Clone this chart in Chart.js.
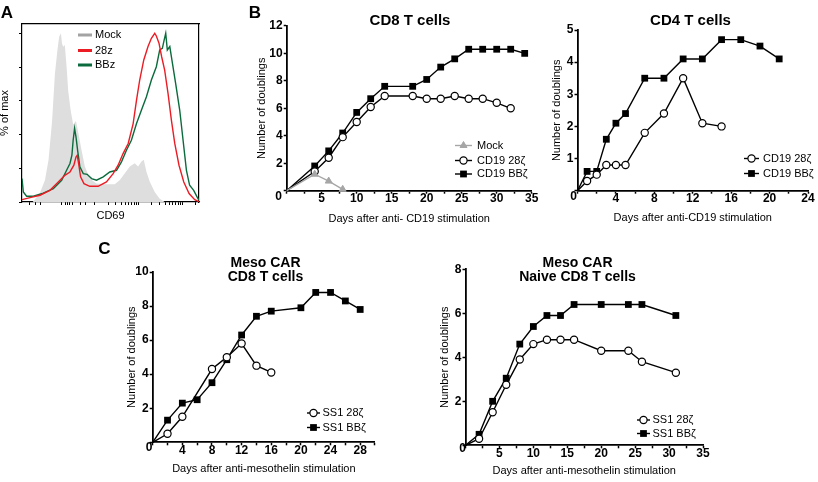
<!DOCTYPE html>
<html>
<head>
<meta charset="utf-8">
<script src="https://cdn.jsdelivr.net/npm/chart.js@4.4.1/dist/chart.umd.min.js"></script>
<style>
  html, body { margin: 0; padding: 0; background: #fff; }
  #fig { position: relative; width: 818px; height: 482px; overflow: hidden; }
  #fig canvas { position: absolute; left: 0; top: 0; }
</style>
</head>
<body>
<div id="fig">
  <canvas id="panelA" width="818" height="482"></canvas>
  <canvas id="panelCD8" width="818" height="482"></canvas>
  <canvas id="panelCD4" width="818" height="482"></canvas>
  <canvas id="panelMeso" width="818" height="482"></canvas>
  <canvas id="panelNaive" width="818" height="482"></canvas>
</div>
<script>
// Panel A - CD69 histogram, x = channel (0-100 across the plot), y = % of max
const mockX = [6, 10, 13, 15, 17, 18.6, 20, 21, 22, 22.6, 23.3, 24.2, 25.2, 26.1, 27.4, 28.9, 30.5, 31.8, 33.6, 35.5, 38.3, 42, 47.7, 52.4, 55.3, 58.1, 60.9, 63.7, 65.6, 67.5, 68.8, 70.3, 72.2, 75, 77.8, 80.6];
const mockY = [0, 5, 13, 25, 48, 76, 90, 98, 100, 94, 92, 93, 80, 66, 55, 46, 48, 41, 31, 21, 14, 11, 10.5, 10.5, 13, 17, 21, 23, 21, 24, 25, 18, 12, 6, 2, 0];
const z28X = [0, 4.5, 10.2, 15.8, 20.5, 24.2, 27.1, 29.3, 30.5, 31.2, 32, 33.1, 35, 38.3, 43, 47.7, 51.5, 54.3, 57.1, 60, 62.8, 64.7, 66.5, 68.8, 71.2, 73.1, 75, 75.9, 77.4, 78.9, 80.6, 82.5, 84.4, 86.3, 88.7, 91.4, 94.4, 97.6, 100];
const z28Y = [1.4, 2.6, 4, 6.9, 11.9, 15.8, 17.8, 21.8, 26.7, 27.7, 22.8, 14.9, 10.9, 9.3, 9.3, 11.9, 16.8, 21.8, 28.7, 34.7, 46.5, 60.4, 72.3, 84.2, 92.1, 97, 100, 98.4, 94.1, 86.1, 78.2, 64.4, 48.5, 34.7, 21.8, 11.9, 5, 1.4, 0.2];
const bbzX = [0, 0.75, 2.6, 6.4, 12, 17.7, 22.4, 25.2, 27.1, 28.2, 28.9, 29.7, 30.5, 31.4, 32.7, 34.6, 36.8, 39.3, 42.1, 45.9, 49.6, 53.4, 56.2, 59, 61.8, 64.7, 67.5, 70.3, 73.1, 75.9, 77.8, 79.3, 80.3, 81.2, 82.1, 83.5, 85, 86.8, 89.1, 91, 92.9, 94.7, 97, 98.9, 100];
const bbzY = [13.9, 5.9, 3.4, 3.4, 5.3, 7.9, 12.9, 18.8, 22.8, 27.7, 36.6, 43.6, 38.6, 30.7, 20.8, 16.8, 16.4, 13.9, 12.9, 14.9, 17.8, 18.8, 23.8, 30.7, 36.6, 46.5, 54.5, 62.4, 72.3, 80.2, 90.1, 91.1, 96, 100, 90.1, 92.1, 82.2, 70.3, 54.5, 36.6, 18.8, 9.9, 6.9, 3, 1];
const cd69Ticks = [4.5, 7.7, 10.2, 22.4, 24.3, 25.8, 27.1, 28.3, 33.3, 35.6, 41.2, 48.6, 52.9, 56, 58.3, 60.3, 61.9, 63.3, 64.6, 65.7, 73.2, 77.6, 80.8, 83.2, 85.2, 86.8, 88.2, 89.4, 90.5, 97.9];
const pctTicks = [0, 20, 40, 60, 80, 100];

// Panel B - CD8 T cells
const cd8DaysMock = [0, 4, 6, 8];
const cd8Mock = [0, 1.2, 0.7, 0.1];
const cd8Days28 = [0, 4, 6, 8, 10, 12, 14, 18, 20, 22, 24, 26, 28, 30, 32];
const cd8z28 = [0, 1.4, 2.4, 3.9, 5.0, 6.1, 6.9, 6.9, 6.7, 6.7, 6.9, 6.7, 6.7, 6.4, 6.0];
const cd8DaysBB = [0, 4, 6, 8, 10, 12, 14, 18, 20, 22, 24, 26, 28, 30, 32, 34];
const cd8BB = [0, 1.8, 2.9, 4.2, 5.7, 6.7, 7.6, 7.6, 8.1, 9.0, 9.6, 10.3, 10.3, 10.3, 10.3, 10.0];

// Panel B - CD4 T cells
const cd4Days28 = [0, 1, 2, 3, 4, 5, 7, 9, 11, 13, 15];
const cd4z28 = [0, 0.3, 0.5, 0.8, 0.8, 0.8, 1.8, 2.4, 3.5, 2.1, 2.0];
const cd4DaysBB = [0, 1, 2, 3, 4, 5, 7, 9, 11, 13, 15, 17, 19, 21];
const cd4BB = [0, 0.6, 0.6, 1.6, 2.1, 2.4, 3.5, 3.5, 4.1, 4.1, 4.7, 4.7, 4.5, 4.1];

// Panel C - Meso CAR CD8 T cells
const mesoDays28 = [0, 2, 4, 8, 10, 12, 14, 16];
const meso28 = [0, 0.5, 1.5, 4.3, 5.0, 5.8, 4.5, 4.1];
const mesoDaysBB = [0, 2, 4, 6, 8, 10, 12, 14, 16, 20, 22, 24, 26, 28];
const mesoBB = [0, 1.3, 2.3, 2.5, 3.5, 4.85, 6.3, 7.4, 7.7, 7.9, 8.8, 8.8, 8.3, 7.8];

// Panel C - Meso CAR naive CD8 T cells
const naiveDays28 = [0, 2, 4, 6, 8, 10, 12, 14, 16, 20, 24, 26, 31];
const naive28 = [0, 0.3, 1.5, 2.75, 3.9, 4.6, 4.8, 4.8, 4.8, 4.3, 4.3, 3.8, 3.3];
const naiveDaysBB = [0, 2, 4, 6, 8, 10, 12, 14, 16, 20, 24, 26, 31];
const naiveBB = [0, 0.5, 2.0, 3.05, 4.6, 5.4, 5.9, 5.9, 6.4, 6.4, 6.4, 6.4, 5.9];

const FONT = "Arial, 'Liberation Sans', Helvetica, sans-serif";
Chart.defaults.font.family = FONT;
Chart.defaults.color = '#000';
Chart.defaults.animation = false;
Chart.defaults.events = [];
Chart.defaults.plugins.legend.display = false;
Chart.defaults.plugins.tooltip.enabled = false;

const W = 818, H = 482;
const pts = (xs, ys) => xs.map((x, i) => ({ x: x, y: ys[i] }));

// free text: panel letters, titles, the shared corner "0"
function textLayer(items) {
    return {
        id: 'textLayer',
        afterDraw(chart) {
            const ctx = chart.ctx;
            ctx.save();
            ctx.fillStyle = '#000';
            ctx.textBaseline = 'middle';
            items.forEach(t => {
                ctx.font = t.font;
                ctx.textAlign = t.align || 'center';
                ctx.fillText(t.text, t.x, t.y);
            });
            ctx.restore();
        }
    };
}

// small legend inside the plot, drawn from the datasets' own styles
function legendLayer(spec) {
    return {
        id: 'legendLayer',
        afterDatasetsDraw(chart) {
            const ctx = chart.ctx;
            const mid = (spec.x0 + spec.x1) / 2;
            ctx.save();
            chart.data.datasets.forEach((ds, i) => {
                const y = spec.rows[i];
                ctx.strokeStyle = ds.legendColor || ds.borderColor;
                ctx.lineWidth = spec.lineWidth || ds.borderWidth;
                ctx.beginPath();
                ctx.moveTo(spec.x0, y);
                ctx.lineTo(spec.x1, y);
                ctx.stroke();
                if (ds.mark) {
                    ctx.fillStyle = ds.pointBackgroundColor;
                    ctx.strokeStyle = ds.pointBorderColor;
                    ctx.lineWidth = ds.pointBorderWidth;
                    Chart.helpers.drawPoint(ctx, { pointStyle: ds.pointStyle, radius: ds.mark, borderWidth: ds.pointBorderWidth, rotation: 0 }, mid, y);
                }
                ctx.fillStyle = '#000';
                ctx.font = spec.font;
                ctx.textAlign = 'left';
                ctx.textBaseline = 'middle';
                ctx.fillText(ds.label, spec.textX, y);
            });
            ctx.restore();
        }
    };
}

const axisGrid = { drawOnChartArea: false, tickLength: 3, tickColor: '#000', tickWidth: 1.5 };
const axisBorder = { color: '#000', width: 1.8 };

const seriesStyle = {
    mock: { borderColor: '#a6a6a6', pointStyle: 'triangle', pointBackgroundColor: '#a6a6a6', pointBorderColor: '#a6a6a6', pointBorderWidth: 1, mark: 4 },
    open: { borderColor: '#000', pointStyle: 'circle', pointBackgroundColor: '#fff', pointBorderColor: '#000', pointBorderWidth: 1.2, mark: 3.6 },
    filled: { borderColor: '#000', pointStyle: 'rect', pointBackgroundColor: '#000', pointBorderColor: '#000', pointBorderWidth: 0, mark: 4.8 }
};

function isLabel(v, every) {
    return v > 0 && Math.abs(v / every - Math.round(v / every)) < 1e-6;
}

function growthChart(id, s) {
    const a = s.area;
    const datasets = s.series.map(se => {
        const st = seriesStyle[se.kind];
        return Object.assign({
            label: se.label,
            data: pts(se.days, se.vals),
            borderWidth: 1.4,
            tension: 0,
            fill: false,
            clip: false,
            pointRadius: c => (c.dataIndex === 0 ? 0 : st.mark)
        }, st);
    });

    return new Chart(document.getElementById(id), {
        type: 'line',
        data: { datasets: datasets },
        options: {
            responsive: false,
            layout: { padding: { left: a.l - s.yW, right: W - a.r, top: a.t, bottom: H - a.b - s.xH } },
            scales: {
                x: {
                    type: 'linear', min: 0, max: s.xMax,
                    afterFit: sc => { sc.height = s.xH; },
                    ticks: {
                        stepSize: s.xStep, autoSkip: false, maxRotation: 0, padding: -1,
                        font: { size: 12, weight: 'bold', lineHeight: 1 },
                        callback: v => (isLabel(v, s.xEvery) ? String(v) : '')
                    },
                    grid: axisGrid,
                    border: axisBorder,
                    title: { display: true, text: s.xTitle, font: { size: 11 }, padding: 0 }
                },
                y: {
                    min: 0, max: s.yMax,
                    afterFit: sc => { sc.width = s.yW; },
                    ticks: {
                        stepSize: s.yStep, padding: 1,
                        font: { size: 12, weight: 'bold' },
                        callback: v => (v === 0 ? '' : String(v))
                    },
                    grid: axisGrid,
                    border: axisBorder,
                    title: { display: true, text: s.yTitle, font: { size: 11 }, padding: 0 }
                }
            }
        },
        plugins: [textLayer(s.texts), legendLayer(s.legend)]
    });
}

// ---- Panel A ----
new Chart(document.getElementById('panelA'), {
    type: 'line',
    data: {
        datasets: [
            { label: 'Mock', data: pts(mockX, mockY), fill: 'origin', backgroundColor: '#dedede', borderWidth: 0,
              borderColor: 'rgba(0,0,0,0)', legendColor: '#a3a3a3', pointRadius: 0, order: 3 },
            { label: '28z', data: pts(z28X, z28Y), fill: false, borderColor: '#ec1c24', borderWidth: 1.4, pointRadius: 0, order: 1 },
            { label: 'BBz', data: pts(bbzX, bbzY), fill: false, borderColor: '#0b6b3c', borderWidth: 1.4, pointRadius: 0, order: 2 }
        ]
    },
    options: {
        responsive: false,
        layout: { padding: { left: 0, right: W - 199, top: 24, bottom: H - 202 - 20.6 } },
        scales: {
            x: {
                type: 'linear', min: 0, max: 100,
                afterBuildTicks: sc => { sc.ticks = cd69Ticks.map(v => ({ value: v })); },
                afterFit: sc => { sc.height = 20.6; },
                ticks: { display: false },
                grid: { drawOnChartArea: false, tickLength: 3, tickColor: '#000', tickWidth: 1 },
                border: { color: '#000', width: 1.2 },
                title: { display: true, text: 'CD69', font: { size: 11 }, padding: 0 }
            },
            y: {
                min: 0, max: 105.5,
                afterBuildTicks: sc => { sc.ticks = pctTicks.map(v => ({ value: v })); },
                afterFit: sc => { sc.width = 22; },
                ticks: { display: false },
                grid: { drawOnChartArea: false, tickLength: 3, tickColor: '#000', tickWidth: 1 },
                border: { color: '#000', width: 1.2 },
                title: { display: true, text: '% of max', font: { size: 11 }, padding: { top: -1.6, bottom: 0 } }
            },
            x2: {
                type: 'linear', position: 'top', min: 0, max: 1,
                afterFit: sc => { sc.height = 0; },
                ticks: { display: false },
                grid: { drawOnChartArea: false, drawTicks: false },
                border: { color: '#000', width: 1.2 }
            },
            y2: {
                type: 'linear', position: 'right', min: 0, max: 1,
                afterFit: sc => { sc.width = 0; },
                ticks: { display: false },
                grid: { drawOnChartArea: false, drawTicks: false },
                border: { color: '#000', width: 1.2 }
            }
        }
    },
    plugins: [
        textLayer([{ text: 'A', x: 7, y: 13.5, font: 'bold 17px ' + FONT }]),
        legendLayer({ x0: 78, x1: 92, textX: 95, rows: [35, 50.5, 65], lineWidth: 3, font: '11px ' + FONT })
    ]
});

// ---- Panel B ----
growthChart('panelCD8', {
    area: { l: 286.7, r: 531.7, t: 25.9, b: 190.7 }, yW: 31.3, xH: 34.9,
    xMax: 35, xStep: 2.5, xEvery: 5, yMax: 12, yStep: 2,
    xTitle: 'Days after anti- CD19 stimulation', yTitle: 'Number of doublings',
    series: [
        { label: 'Mock', kind: 'mock', days: cd8DaysMock, vals: cd8Mock },
        { label: 'CD19 28ζ', kind: 'open', days: cd8Days28, vals: cd8z28 },
        { label: 'CD19 BBζ', kind: 'filled', days: cd8DaysBB, vals: cd8BB }
    ],
    texts: [
        { text: 'B', x: 255, y: 13.5, font: 'bold 17px ' + FONT },
        { text: 'CD8 T cells', x: 410, y: 21, font: 'bold 15px ' + FONT },
        { text: '0', x: 278.5, y: 197, font: 'bold 12px ' + FONT }
    ],
    legend: { x0: 455, x1: 472, textX: 477, rows: [145.5, 160.5, 174], font: '11px ' + FONT }
});

growthChart('panelCD4', {
    area: { l: 577.5, r: 808, t: 30, b: 190.7 }, yW: 27.4, xH: 34.2,
    xMax: 24, xStep: 2, xEvery: 4, yMax: 5, yStep: 1,
    xTitle: 'Days after anti-CD19 stimulation', yTitle: 'Number of doublings',
    series: [
        { label: 'CD19 28ζ', kind: 'open', days: cd4Days28, vals: cd4z28 },
        { label: 'CD19 BBζ', kind: 'filled', days: cd4DaysBB, vals: cd4BB }
    ],
    texts: [
        { text: 'CD4 T cells', x: 690.5, y: 21, font: 'bold 15px ' + FONT },
        { text: '0', x: 573.5, y: 197, font: 'bold 12px ' + FONT }
    ],
    legend: { x0: 744, x1: 759, textX: 763, rows: [158.5, 173.5], font: '11px ' + FONT }
});

// ---- Panel C ----
growthChart('panelMeso', {
    area: { l: 152.7, r: 375, t: 272, b: 442.3 }, yW: 27.6, xH: 33.3,
    xMax: 30, xStep: 2, xEvery: 4, yMax: 10, yStep: 2,
    xTitle: 'Days after anti-mesothelin stimulation', yTitle: 'Number of doublings',
    series: [
        { label: 'SS1 28ζ', kind: 'open', days: mesoDays28, vals: meso28 },
        { label: 'SS1 BBζ', kind: 'filled', days: mesoDaysBB, vals: mesoBB }
    ],
    texts: [
        { text: 'C', x: 104.5, y: 249, font: 'bold 17px ' + FONT },
        { text: 'Meso CAR', x: 265.5, y: 262.7, font: 'bold 14px ' + FONT },
        { text: 'CD8 T cells', x: 265.5, y: 277.5, font: 'bold 14px ' + FONT },
        { text: '0', x: 149, y: 448, font: 'bold 12px ' + FONT }
    ],
    legend: { x0: 307, x1: 320, textX: 322.5, rows: [413, 427.5], font: '11px ' + FONT }
});

growthChart('panelNaive', {
    area: { l: 465.5, r: 703, t: 269.3, b: 445.3 }, yW: 27.1, xH: 32.1,
    xMax: 35, xStep: 2.5, xEvery: 5, yMax: 8, yStep: 2,
    xTitle: 'Days after anti-mesothelin stimulation', yTitle: 'Number of doublings',
    series: [
        { label: 'SS1 28ζ', kind: 'open', days: naiveDays28, vals: naive28 },
        { label: 'SS1 BBζ', kind: 'filled', days: naiveDaysBB, vals: naiveBB }
    ],
    texts: [
        { text: 'Meso CAR', x: 577.5, y: 262.7, font: 'bold 14px ' + FONT },
        { text: 'Naive CD8 T cells', x: 577.5, y: 277.5, font: 'bold 14px ' + FONT },
        { text: '0', x: 462.5, y: 448.5, font: 'bold 12px ' + FONT }
    ],
    legend: { x0: 637, x1: 650, textX: 652.5, rows: [420, 433.5], font: '11px ' + FONT }
});
</script>
</body>
</html>
